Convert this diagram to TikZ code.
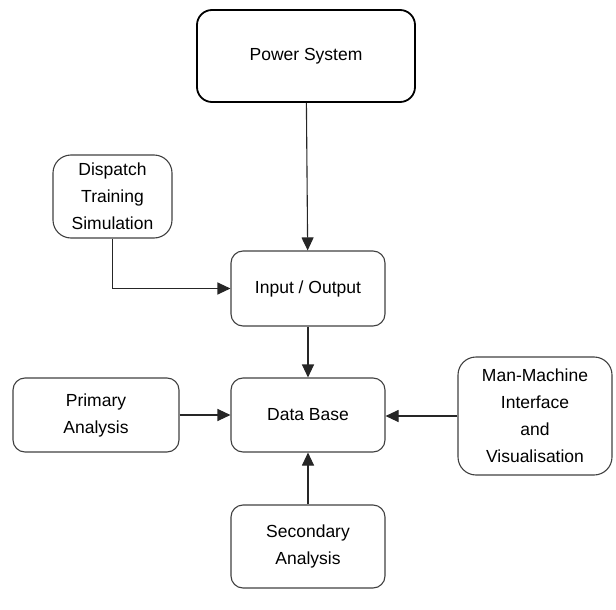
\documentclass[tikz,border=0pt]{standalone}
\usepackage{fontspec}
\setmainfont{Liberation Sans}
\usetikzlibrary{arrows.meta}
\begin{document}
\begin{tikzpicture}[x=1pt,y=-1pt,
  box/.style={draw=black!75,line width=1.1pt,rounded corners=12pt,align=center,
    font=\fontsize{17.5}{27}\selectfont,inner sep=0pt},
  mainbox/.style={box,draw=black,line width=1.8pt,rounded corners=15pt},
  conn/.style={draw=black!85,line width=1.1pt,-{Triangle[length=13pt,width=12pt]}}]
\useasboundingbox (0,0) rectangle (616,610);
\node[mainbox,minimum width=218pt,minimum height=92pt] (ps) at (306,56) {Power System};
\node[box,rounded corners=18pt,minimum width=119pt,minimum height=83pt] (dts) at (112.5,196.5) {Dispatch\\Training\\Simulation};
\node[box,minimum width=154pt,minimum height=75pt] (io) at (308,288.5) {Input / Output};
\node[box,minimum width=154pt,minimum height=74pt] (db) at (308,415) {Data Base};
\node[box,minimum width=166pt,minimum height=74pt] (pa) at (96,415) {Primary\\Analysis};
\node[box,rounded corners=18pt,minimum width=154pt,minimum height=118pt] (ms) at (535,416) {Man-Machine\\Interface\\and\\Visualisation};
\node[box,minimum width=154pt,minimum height=83pt] (sa) at (308,546.5) {Secondary\\Analysis};
\draw[conn] (ps) -- (io);
\draw[conn] (dts.south) |- (io.west);
\draw[conn] (io) -- (db);
\draw[conn] (pa) -- (db);
\draw[conn] (ms.west) -- (ms.west -| db.east);
\draw[conn] (sa) -- (db);
\end{tikzpicture}
\end{document}
